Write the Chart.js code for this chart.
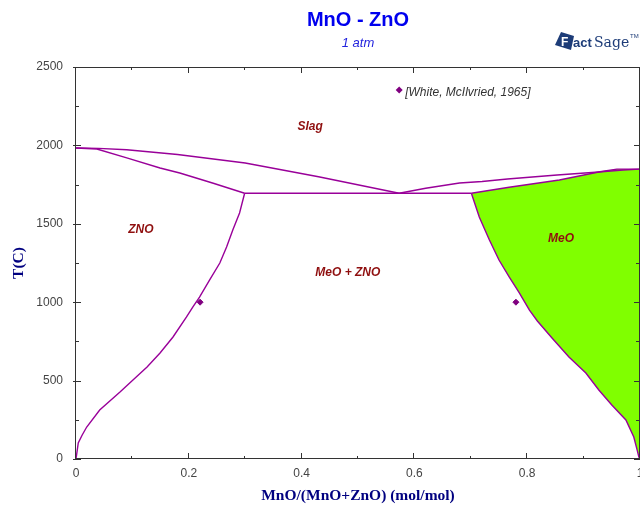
<!DOCTYPE html>
<html lang="en">
<head>
<meta charset="UTF-8">
<title>MnO - ZnO</title>
<script src="https://cdn.jsdelivr.net/npm/chart.js"></script>
<style>
    html, body { margin: 0; padding: 0; background: #fff; }
    #diagram { display: block; }
</style>
</head>
<body>
<canvas id="diagram" width="640" height="508"></canvas>
<script>
    // x = MnO/(MnO+ZnO) (mol/mol), T in C
    const liqZnO_x = [0, 0.04, 0.09, 0.18, 0.30, 0.43, 0.573];
    const liqZnO_T = [1983, 1981, 1972, 1942, 1888, 1800, 1695];

    const solZnO_x = [0, 0.037, 0.09, 0.149, 0.184, 0.242, 0.299];
    const solZnO_T = [1983, 1977, 1920, 1856, 1824, 1760, 1695];

    const eutectic_x = [0.299, 0.701];
    const eutectic_T = [1695, 1695];

    const solvZnO_x = [0.299, 0.290, 0.278, 0.267, 0.255, 0.237, 0.219, 0.207, 0.196, 0.172, 0.149, 0.126, 0.101, 0.078, 0.042, 0.019, 0.011, 0.004, 0];
    const solvZnO_T = [1695, 1569, 1460, 1352, 1250, 1142, 1033, 969, 906, 778, 676, 587, 504, 427, 312, 204, 153, 102, 0];

    const liqMeO_x = [0.573, 0.62, 0.68, 0.72, 0.765, 0.853, 0.927, 0.97, 1.0];
    const liqMeO_T = [1695, 1727, 1760, 1770, 1786, 1811, 1830, 1843, 1849];

    const solMeO_x = [0.701, 0.768, 0.857, 0.929, 0.959, 1.0];
    const solMeO_T = [1695, 1733, 1779, 1832, 1849, 1849];

    const solvMeO_x = [0.701, 0.715, 0.733, 0.750, 0.768, 0.786, 0.804, 0.818, 0.844, 0.874, 0.904, 0.927, 0.950, 0.975, 0.989, 0.995, 0.998, 1.0];
    const solvMeO_T = [1695, 1543, 1397, 1269, 1161, 1059, 950, 880, 772, 651, 548, 440, 344, 249, 140, 57, 13, 0];

    // [White, McIlvried, 1965]
    const exp_x = [0.22, 0.78];
    const exp_T = [1000, 1000];

    const xTicks = [0, 0.2, 0.4, 0.6, 0.8, 1];
    const yTicks = [0, 500, 1000, 1500, 2000, 2500];

    const phaseLabels = ['Slag', 'ZNO', 'MeO + ZNO', 'MeO'];
    const phaseLabel_x = [0.415, 0.115, 0.482, 0.860];
    const phaseLabel_T = [2117, 1460, 1186, 1403];

    const pts = (xs, ts) => xs.map((v, i) => ({ x: v, y: ts[i] }));

    // green MeO field: solidus down the right edge, back up the solvus
    const meoField = pts(solMeO_x, solMeO_T).concat(pts(solvMeO_x, solvMeO_T).reverse());

    const lineColor = '#990099';
    const curve = (xs, ts) => ({
        data: pts(xs, ts),
        borderColor: lineColor,
        borderWidth: 1.4,
        pointRadius: 0,
        fill: false,
        order: 1
    });

    const serif = "'Times New Roman', 'Liberation Serif', serif";
    const sans = "Arial, 'Liberation Sans', sans-serif";

    function drawLogo(ctx) {
        ctx.save();
        ctx.fillStyle = '#1d3c78';
        ctx.beginPath();
        ctx.moveTo(561, 32);
        ctx.lineTo(574, 36);
        ctx.lineTo(571, 50);
        ctx.lineTo(555, 45);
        ctx.closePath();
        ctx.fill();
        ctx.fillStyle = '#fff';
        ctx.font = 'bold 12px ' + sans;
        ctx.textAlign = 'left';
        ctx.textBaseline = 'alphabetic';
        ctx.fillText('F', 561, 46);
        ctx.fillStyle = '#1d3c78';
        ctx.font = 'bold 13px ' + sans;
        ctx.fillText('act', 573, 47);
        ctx.font = "14px 'DejaVu Serif', serif";
        ctx.fillText('Sage', 594, 47);
        ctx.font = '6px ' + sans;
        ctx.fillText('TM', 630, 38);
        ctx.restore();
    }

    const decor = {
        id: 'decor',
        afterDraw(chart) {
            const { ctx, chartArea: a, scales: { x, y } } = chart;
            ctx.save();

            // frame + inward ticks
            ctx.strokeStyle = '#333';
            ctx.lineWidth = 1;
            ctx.strokeRect(a.left - 0.5, a.top + 0.5, a.right - a.left, a.bottom - a.top - 1);
            ctx.beginPath();
            for (let i = 0; i <= 10; i++) {
                const px = Math.round(x.getPixelForValue(i / 10)) - 0.5;
                const len = i % 2 ? 3 : 6;
                ctx.moveTo(px, a.bottom); ctx.lineTo(px, a.bottom - len);
                ctx.moveTo(px, a.top); ctx.lineTo(px, a.top + len);
            }
            for (let t = 0; t <= 2500; t += 250) {
                const py = Math.round(y.getPixelForValue(t)) + 0.5;
                const major = t % 500 === 0;
                ctx.moveTo(a.left - (major ? 3 : 0), py); ctx.lineTo(a.left + (major ? 5 : 3), py);
                ctx.moveTo(a.right, py); ctx.lineTo(a.right - (major ? 6 : 4), py);
            }
            ctx.stroke();

            // phase field names
            ctx.fillStyle = '#8f0f0f';
            ctx.font = 'italic bold 12px ' + sans;
            ctx.textAlign = 'center';
            ctx.textBaseline = 'middle';
            phaseLabels.forEach((s, i) => {
                ctx.fillText(s, x.getPixelForValue(phaseLabel_x[i]), y.getPixelForValue(phaseLabel_T[i]));
            });

            // legend for the experimental points
            const lx = x.getPixelForValue(0.573), ly = y.getPixelForValue(2353);
            ctx.fillStyle = '#800080';
            ctx.beginPath();
            ctx.moveTo(lx, ly - 3.5); ctx.lineTo(lx + 3.5, ly); ctx.lineTo(lx, ly + 3.5); ctx.lineTo(lx - 3.5, ly);
            ctx.closePath();
            ctx.fill();
            ctx.fillStyle = '#333';
            ctx.font = 'italic 12px ' + sans;
            ctx.textAlign = 'left';
            ctx.fillText('[White, McIlvried, 1965]', lx + 6, ly + 3);

            // titles
            const cx = (a.left + a.right) / 2;
            ctx.textAlign = 'center';
            ctx.fillStyle = '#0000ee';
            ctx.font = 'bold 20px ' + sans;
            ctx.fillText('MnO - ZnO', cx, 20);
            ctx.fillStyle = '#2222dd';
            ctx.font = 'italic 13px ' + sans;
            ctx.fillText('1 atm', cx, 43);

            ctx.fillStyle = '#000080';
            ctx.font = 'bold 15.5px ' + serif;
            ctx.fillText('MnO/(MnO+ZnO) (mol/mol)', cx, 496);
            ctx.save();
            ctx.translate(19, (a.top + a.bottom) / 2);
            ctx.rotate(-Math.PI / 2);
            ctx.fillText('T(C)', 0, 0);
            ctx.restore();

            drawLogo(ctx);
            ctx.restore();
        }
    };

    new Chart(document.getElementById('diagram'), {
        type: 'line',
        data: {
            datasets: [
                {
                    data: pts(exp_x, exp_T),
                    showLine: false,
                    pointStyle: 'rectRot',
                    pointRadius: 3,
                    borderWidth: 1,
                    backgroundColor: '#800080',
                    borderColor: '#800080',
                    order: 0
                },
                curve(liqZnO_x, liqZnO_T),
                curve(solZnO_x, solZnO_T),
                curve(eutectic_x, eutectic_T),
                curve(solvZnO_x, solvZnO_T),
                curve(liqMeO_x, liqMeO_T),
                curve(solMeO_x, solMeO_T),
                curve(solvMeO_x, solvMeO_T),
                {
                    data: meoField,
                    fill: 'shape',
                    backgroundColor: '#80ff00',
                    borderColor: 'rgba(0,0,0,0)',
                    borderWidth: 0,
                    pointRadius: 0,
                    order: 2
                }
            ]
        },
        options: {
            responsive: false,
            animation: false,
            layout: { autoPadding: false, padding: { top: 67, left: 0, right: 0, bottom: 0 } },
            plugins: {
                legend: { display: false },
                tooltip: { enabled: false },
                title: { display: false }
            },
            scales: {
                x: {
                    type: 'linear',
                    min: 0,
                    max: 1,
                    afterBuildTicks: s => { s.ticks = xTicks.map(v => ({ value: v })); },
                    afterFit: s => { s.height = 49; s.paddingLeft = 0; s.paddingRight = 0; },
                    grid: { display: false, drawTicks: false },
                    border: { display: false },
                    ticks: {
                        maxRotation: 0,
                        padding: 7,
                        color: '#444',
                        font: { family: sans, size: 12 },
                        callback: v => String(v)
                    }
                },
                y: {
                    type: 'linear',
                    min: 0,
                    max: 2500,
                    afterBuildTicks: s => { s.ticks = yTicks.map(v => ({ value: v })); },
                    afterFit: s => { s.width = 76; },
                    grid: { display: false, drawTicks: false },
                    border: { display: false },
                    ticks: {
                        padding: 13,
                        color: '#444',
                        font: { family: sans, size: 12 },
                        callback: v => String(v)
                    }
                }
            }
        },
        plugins: [decor]
    });
</script>
</body>
</html>
